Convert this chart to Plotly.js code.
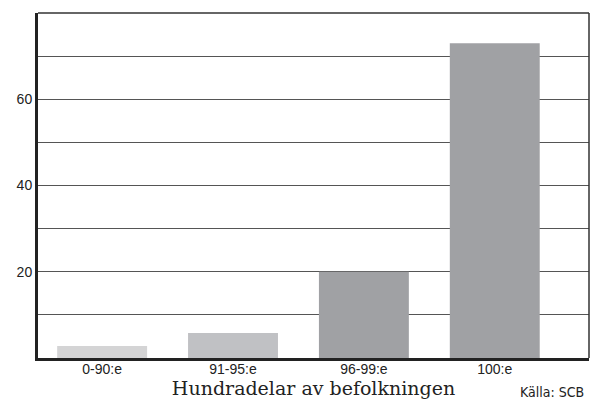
<!DOCTYPE html>
<html>
<head>
<meta charset="utf-8">
<script src="https://cdn.plot.ly/plotly-3.0.1.min.js"></script>
<style>html,body{margin:0;padding:0;background:#fff}#chart{width:593px;height:408px}</style>
</head>
<body>
<div id="chart"></div>
<script>
const categories = ["0-90:e", "91-95:e", "96-99:e", "100:e"];
const values = [2.8, 5.8, 20, 73];
const barColors = ["#d4d4d5", "#c0c1c4", "#a0a1a4", "#a0a1a4"];
const yTickVals = [20, 40, 60];
const xTitle = "Hundradelar av befolkningen";
const sourceText = "Källa: SCB";

const trace = {
  type: "bar",
  x: categories,
  y: values,
  width: 0.687,
  marker: {color: barColors, line: {width: 0}},
  hoverinfo: "none"
};

const layout = {
  width: 593, height: 408,
  margin: {l: 38, r: 4, t: 13, b: 50, pad: 0},
  paper_bgcolor: "#fff", plot_bgcolor: "#fff",
  showlegend: false,
  font: {family: "Liberation Sans, Arial, sans-serif", color: "#222", size: 14},
  xaxis: {
    type: "category",
    range: [-0.49, 3.72],
    showgrid: false,
    zeroline: false,
    showline: true, linecolor: "#222", linewidth: 3,
    ticks: "", ticklabelstandoff: -4,
    tickfont: {family: "Liberation Sans, Arial, sans-serif", size: 14, color: "#222"},
    title: {text: xTitle, font: {family: "DejaVu Serif, Liberation Serif, serif", size: 19, color: "#222"}, standoff: 6}
  },
  yaxis: {
    range: [0, 80],
    tickvals: yTickVals,
    ticktext: yTickVals.map(String),
    showgrid: true, gridcolor: "#555", gridwidth: 1,
    minor: {dtick: 10, showgrid: true, gridcolor: "#555", gridwidth: 1, ticks: ""},
    zeroline: false,
    showline: true, linecolor: "#222", linewidth: 3,
    ticks: "", ticklabelstandoff: 0,
    tickfont: {family: "Liberation Sans, Arial, sans-serif", size: 14, color: "#222"}
  },
  shapes: [
    {type: "line", xref: "paper", yref: "paper", x0: 0, x1: 1, y0: 1, y1: 1, line: {color: "#333", width: 1.5}},
    {type: "line", xref: "paper", yref: "paper", x0: 1, x1: 1, y0: 0, y1: 1, line: {color: "#333", width: 1.5}}
  ],
  annotations: [
    {text: sourceText, xref: "paper", yref: "paper", x: 0.995, y: -0.0985, xanchor: "right", yanchor: "middle",
     showarrow: false, font: {family: "Liberation Sans Narrow, DejaVu Sans Condensed, Roboto, sans-serif", size: 14, color: "#222"}}
  ]
};

Plotly.newPlot("chart", [trace], layout, {displayModeBar: false, staticPlot: true});
</script>
</body>
</html>
